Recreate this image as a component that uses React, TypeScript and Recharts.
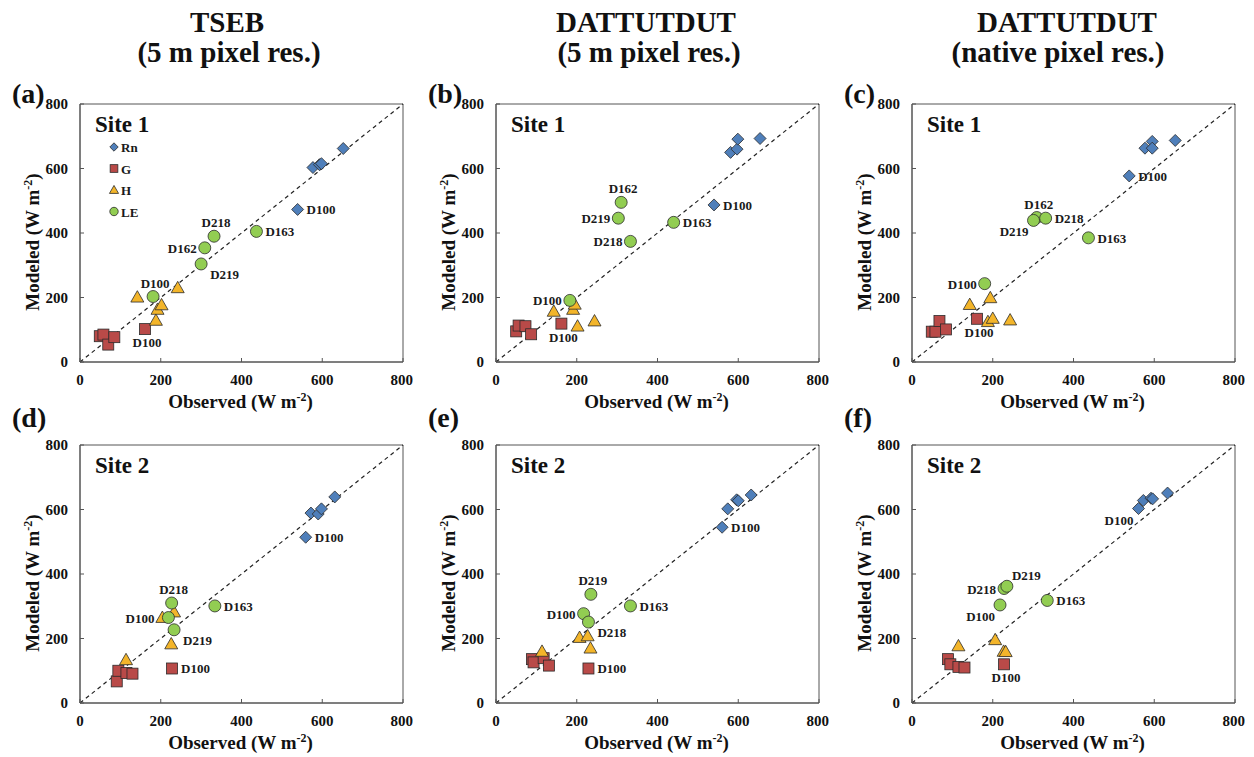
import React from "react";
import {
  Legend,
  ReferenceArea,
  ReferenceLine,
  Scatter,
  ScatterChart,
  XAxis,
  YAxis,
} from "recharts";

type Row = [number, number, string?];

const TICKS = [0, 200, 400, 600, 800];

// (a) TSEB, 5 m, site 1
const aRn: Row[] = [[577, 603], [593, 612], [598, 615], [652, 662], [539, 473, "D100"]];
const aG: Row[] = [[49, 80], [58, 85], [70, 54], [85, 77], [161, 102, "D100"]];
const aH: Row[] = [[142, 201], [188, 129], [192, 163], [202, 177], [242, 230]];
const aLE: Row[] = [[181, 203, "D100"], [309, 354, "D162"], [332, 390, "D218"], [300, 304, "D219"], [437, 405, "D163"]];

// (b) DATTUTDUT, 5 m, site 1
const bRn: Row[] = [[581, 650], [597, 660], [599, 691], [654, 693], [540, 487, "D100"]];
const bG: Row[] = [[50, 95], [56, 113], [73, 111], [87, 86], [162, 119, "D100"]];
const bH: Row[] = [[143, 157], [191, 163], [195, 179], [202, 111], [244, 127]];
const bLE: Row[] = [[183, 191, "D100"], [310, 495, "D162"], [303, 446, "D219"], [333, 374, "D218"], [440, 433, "D163"]];

// (c) DATTUTDUT, native, site 1
const cRn: Row[] = [[577, 663], [595, 684], [595, 663], [652, 687], [538, 577, "D100"]];
const cG: Row[] = [[49, 94], [58, 94], [68, 127], [84, 101], [161, 134, "D100"]];
const cH: Row[] = [[143, 178], [194, 199], [188, 125], [200, 135], [243, 130]];
const cLE: Row[] = [[180, 243, "D100"], [309, 448, "D162"], [301, 439, "D219"], [331, 446, "D218"], [437, 385, "D163"]];

// (d) TSEB, 5 m, site 2
const dRn: Row[] = [[572, 589], [590, 586], [598, 602], [631, 639], [559, 514, "D100"]];
const dG: Row[] = [[91, 67], [95, 100], [115, 93], [130, 91], [228, 107, "D100"]];
const dH: Row[] = [[114, 134], [204, 265], [233, 282], [226, 183]];
const dLE: Row[] = [[219, 265, "D100"], [227, 310, "D218"], [233, 227, "D219"], [334, 301, "D163"]];

// (e) DATTUTDUT, 5 m, site 2
const eRn: Row[] = [[574, 602], [596, 630], [600, 627], [632, 645], [560, 545, "D100"]];
const eG: Row[] = [[89, 136], [93, 126], [118, 139], [131, 116], [229, 107, "D100"]];
const eH: Row[] = [[114, 160], [207, 203], [227, 208], [234, 170]];
const eLE: Row[] = [[235, 337, "D219"], [217, 277, "D100"], [229, 251, "D218"], [333, 301, "D163"]];

// (f) DATTUTDUT, native, site 2
const fRn: Row[] = [[573, 628], [592, 635], [596, 633], [633, 651], [561, 603, "D100"]];
const fG: Row[] = [[89, 136], [95, 120], [115, 112], [130, 110], [228, 120, "D100"]];
const fH: Row[] = [[115, 177], [206, 196], [227, 160], [232, 159]];
const fLE: Row[] = [[228, 355, "D218"], [235, 362, "D219"], [218, 304, "D100"], [335, 318, "D163"]];

// which side of the marker each date tag sits on
const tagSide: Record<string, string> = {
  "a-Rn-D100": "r", "a-G-D100": "b", "a-LE-D100": "t", "a-LE-D162": "l", "a-LE-D218": "t", "a-LE-D219": "br", "a-LE-D163": "r",
  "b-Rn-D100": "r", "b-G-D100": "b", "b-LE-D100": "l", "b-LE-D162": "t", "b-LE-D219": "l", "b-LE-D218": "l", "b-LE-D163": "r",
  "c-Rn-D100": "r", "c-G-D100": "b", "c-LE-D100": "l", "c-LE-D162": "t", "c-LE-D219": "bl", "c-LE-D218": "r", "c-LE-D163": "r",
  "d-Rn-D100": "r", "d-G-D100": "r", "d-LE-D100": "ll", "d-LE-D218": "t", "d-LE-D219": "br", "d-LE-D163": "r",
  "e-Rn-D100": "r", "e-G-D100": "r", "e-LE-D219": "t", "e-LE-D100": "l", "e-LE-D218": "br", "e-LE-D163": "r",
  "f-Rn-D100": "bl", "f-G-D100": "b", "f-LE-D218": "l", "f-LE-D219": "tr", "f-LE-D100": "bl", "f-LE-D163": "r",
};

const SIDE: Record<string, [number, number, "start" | "middle" | "end"]> = {
  r: [9, 5, "start"],
  l: [-8, 5, "end"],
  ll: [-14, 5, "end"],
  t: [2, -9, "middle"],
  b: [2, 18, "middle"],
  br: [9, 15, "start"],
  bl: [-5, 16, "end"],
  tr: [5, -6, "start"],
};

const SERIES = [
  { key: "Rn", kind: "diamond", fill: "#4F7FBA" },
  { key: "G", kind: "square", fill: "#B94A48" },
  { key: "H", kind: "triangle", fill: "#F3B52A" },
  { key: "LE", kind: "circle", fill: "#92CD52" },
];

const PANELS = [
  { id: "a", left: 80, top: 104, site: "Site 1", legend: true, rows: { Rn: aRn, G: aG, H: aH, LE: aLE } },
  { id: "b", left: 496, top: 104, site: "Site 1", rows: { Rn: bRn, G: bG, H: bH, LE: bLE } },
  { id: "c", left: 912, top: 104, site: "Site 1", rows: { Rn: cRn, G: cG, H: cH, LE: cLE } },
  { id: "d", left: 80, top: 445, site: "Site 2", rows: { Rn: dRn, G: dG, H: dH, LE: dLE } },
  { id: "e", left: 496, top: 445, site: "Site 2", rows: { Rn: eRn, G: eG, H: eH, LE: eLE } },
  { id: "f", left: 912, top: 445, site: "Site 2", rows: { Rn: fRn, G: fG, H: fH, LE: fLE } },
];

const HEADS = [
  { cx: 227, cx2: 229, l1: "TSEB", l2: "(5 m pixel res.)" },
  { cx: 646, cx2: 649, l1: "DATTUTDUT", l2: "(5 m pixel res.)" },
  { cx: 1067, cx2: 1058, l1: "DATTUTDUT", l2: "(native pixel res.)" },
];

const SERIF = "'Liberation Serif', 'Times New Roman', serif";
const PW = 323;
const PH = 258;

function Mark({ cx, cy, kind, fill, s = 1 }: any) {
  const st = { fill, stroke: "#2b2b2b", strokeWidth: 0.8 };
  if (kind === "diamond") {
    const r = 6 * s;
    return <polygon points={`${cx},${cy - r} ${cx + r},${cy} ${cx},${cy + r} ${cx - r},${cy}`} {...st} />;
  }
  if (kind === "square") {
    const h = 5.5 * s;
    return <rect x={cx - h} y={cy - h} width={2 * h} height={2 * h} {...st} />;
  }
  if (kind === "triangle") {
    const w = 6.5 * s;
    return <polygon points={`${cx},${cy - w} ${cx + w},${cy + w * 0.75} ${cx - w},${cy + w * 0.75}`} {...st} />;
  }
  return <circle cx={cx} cy={cy} r={6 * s} {...st} />;
}

function Point(props: any, panel: string, s: any) {
  const { cx, cy, payload } = props;
  const tag = payload?.tag;
  const side = tag ? SIDE[tagSide[`${panel}-${s.key}-${tag}`] || "r"] : null;
  return (
    <g>
      <Mark cx={cx} cy={cy} kind={s.kind} fill={s.fill} />
      {side && (
        <text x={cx + side[0]} y={cy + side[1]} textAnchor={side[2]} fontFamily={SERIF} fontWeight={700} fontSize={13} fill="#1a1a1a">
          {tag}
        </text>
      )}
    </g>
  );
}

function LegendBox() {
  return (
    <svg width={60} height={90}>
      {SERIES.map((s, i) => (
        <g key={s.key}>
          <Mark cx={7} cy={8 + i * 21.5} kind={s.kind} fill={s.fill} s={0.7} />
          <text x={14} y={13 + i * 21.5} fontFamily={SERIF} fontWeight={700} fontSize={13} fill="#1a1a1a">
            {s.key}
          </text>
        </g>
      ))}
    </svg>
  );
}

const tickStyle = { fontSize: 15, fontWeight: 700, fill: "#111", fontFamily: SERIF };

function Panel({ p }: any) {
  return (
    <div style={{ position: "absolute", left: p.left - 70, top: p.top - 10 }}>
      <ScatterChart width={PW + 80} height={PH + 50} margin={{ top: 10, right: 10, bottom: 0, left: 0 }}>
        <XAxis type="number" dataKey="x" domain={[0, 800]} ticks={TICKS} height={40} tickSize={-4} tickMargin={16} tick={tickStyle} stroke="#555" />
        <YAxis type="number" dataKey="y" domain={[0, 800]} ticks={TICKS} width={70} tickSize={-4} tickMargin={16} tick={tickStyle} stroke="#555" />
        <ReferenceArea x1={0} x2={800} y1={0} y2={800} fill="none" stroke="#555" strokeWidth={1} />
        <ReferenceLine segment={[{ x: 0, y: 0 }, { x: 800, y: 800 }]} stroke="#222" strokeWidth={1.2} strokeDasharray="4 3.5" />
        {SERIES.map((s) => (
          <Scatter
            key={s.key}
            name={s.key}
            data={p.rows[s.key].map(([x, y, tag]: Row) => ({ x, y, tag }))}
            fill={s.fill}
            isAnimationActive={false}
            shape={(props: any) => Point(props, p.id, s)}
          />
        ))}
        {p.legend && (
          <Legend layout="vertical" align="center" verticalAlign="middle" wrapperStyle={{ left: 97, top: 45, width: 60 }} content={() => <LegendBox />} />
        )}
      </ScatterChart>
    </div>
  );
}

function Unit({ label }: { label: string }) {
  return (
    <>
      {label} (W m<tspan dy={-7} fontSize={12}>-2</tspan>
      <tspan dy={7}>)</tspan>
    </>
  );
}

export default function App() {
  return (
    <div style={{ position: "absolute", left: 0, top: 0, width: 1254, height: 757, background: "#fff" }}>
      {PANELS.map((p) => (
        <Panel key={p.id} p={p} />
      ))}
      <svg width={1254} height={757} style={{ position: "absolute", left: 0, top: 0, pointerEvents: "none" }} fontFamily={SERIF} fontWeight={700} fill="#111">
        {HEADS.map((h, i) => (
          <g key={i} fontSize={29} textAnchor="middle">
            <text x={h.cx} y={32}>{h.l1}</text>
            <text x={h.cx2} y={62}>{h.l2}</text>
          </g>
        ))}
        {PANELS.map((p) => (
          <g key={p.id}>
            <text x={p.left - 68} y={p.top > 200 ? p.top - 18 : p.top - 1} fontSize={28}>
              ({p.id})
            </text>
            <text x={p.left + 15} y={p.top + 28} fontSize={23}>{p.site}</text>
            <text x={p.left + PW / 2 - 1} y={p.top + PH + 46} fontSize={19} textAnchor="middle">
              <Unit label="Observed" />
            </text>
            <text transform={`translate(${p.left - 41},${p.top + 138}) rotate(-90)`} fontSize={19} textAnchor="middle">
              <Unit label="Modeled" />
            </text>
          </g>
        ))}
      </svg>
    </div>
  );
}
